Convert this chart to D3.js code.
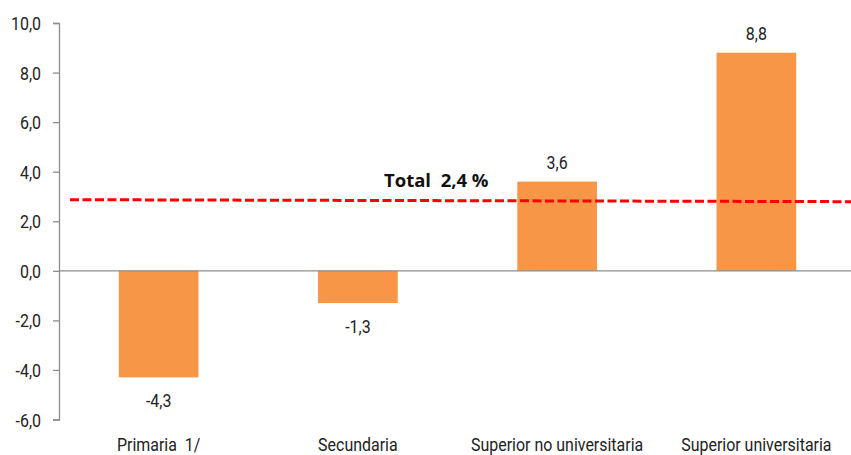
<!DOCTYPE html>
<html><head><meta charset="utf-8">
<script src="https://cdn.jsdelivr.net/npm/d3@7"></script>
<style>body{margin:0;background:#fff}svg{display:block}</style>
</head><body>
<svg id="c" width="851" height="455"></svg>
<script>
const categories = ["Primaria  1/", "Secundaria", "Superior no universitaria", "Superior universitaria"];
const values = [-4.3, -1.3, 3.6, 8.8];
const yTicks = [-6, -4, -2, 0, 2, 4, 6, 8, 10];
const totalLabel = "Total  2,4 %";
const totalLineEnds = [2.87, 2.79]; // drawn position of the dashed reference line (left, right)

const svg = d3.select("#c");
const font = "Roboto,'Liberation Sans',sans-serif";
const SX = 0.84; // horizontal condensing
const fmt = v => d3.format(".1f")(v).replace(".", ",").replace("−", "-");

const y = d3.scaleLinear().domain([-6, 10]).range([419.5, 23]);
const x = d3.scaleBand().domain(categories).range([59, 856]).paddingInner(0.6).paddingOuter(0.3);

function ctext(sel) {
  return sel.attr("font-family", font).attr("font-size", 19).attr("fill", "#222").style("white-space", "pre");
}

// y axis
const yAxis = d3.axisLeft(y).tickValues(yTicks).tickSize(6).tickFormat(fmt);
const gy = svg.append("g").attr("transform", "translate(59,0)").call(yAxis);
gy.select(".domain").attr("stroke", "#8c8c8c").attr("stroke-width", 1.3);
gy.selectAll(".tick line").attr("stroke", "#8c8c8c").attr("stroke-width", 1.3);
gy.selectAll(".tick text").attr("x", null).attr("dy", null)
  .attr("transform", `translate(-18,6.5) scale(${SX},1)`).attr("text-anchor", "end")
  .call(ctext);

// bars
svg.append("g").selectAll("rect").data(values).join("rect")
  .attr("x", (d, i) => x(categories[i]))
  .attr("width", x.bandwidth())
  .attr("y", d => y(Math.max(0, d)))
  .attr("height", d => Math.abs(y(d) - y(0)))
  .attr("fill", "#F79646");

// zero line
svg.append("line").attr("x1", 59).attr("x2", 851).attr("y1", y(0)).attr("y2", y(0))
  .attr("stroke", "#8c8c8c").attr("stroke-width", 1.3);

// value labels
svg.append("g").selectAll("text").data(values).join("text")
  .attr("transform", (d, i) => `translate(${x(categories[i]) + x.bandwidth() / 2},${d >= 0 ? y(d) - 13 : y(d) + 29.5}) scale(${SX},1)`)
  .attr("text-anchor", "middle")
  .call(ctext)
  .text(fmt);

// category labels
svg.append("g").selectAll("text").data(categories).join("text")
  .attr("transform", d => `translate(${x(d) + x.bandwidth() / 2},451) scale(${SX},1)`)
  .attr("text-anchor", "middle")
  .call(ctext)
  .text(d => d);

// dashed total line
svg.append("line").attr("x1", 70).attr("x2", 851)
  .attr("y1", y(totalLineEnds[0])).attr("y2", y(totalLineEnds[1]))
  .attr("stroke", "#ff0000").attr("stroke-width", 3).attr("stroke-dasharray", "9,3.5");

svg.append("text").attr("x", 384).attr("y", 187)
  .attr("font-family", "'Open Sans','Liberation Sans',sans-serif").attr("font-weight", "bold")
  .attr("font-size", 18.5).attr("fill", "#111").style("white-space", "pre")
  .text(totalLabel);
</script>
</body></html>
